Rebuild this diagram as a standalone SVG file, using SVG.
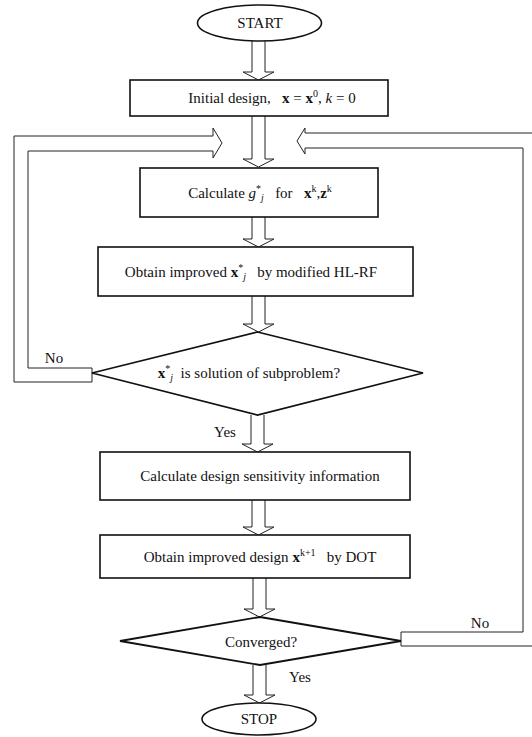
<svg xmlns="http://www.w3.org/2000/svg" width="532" height="737" viewBox="0 0 532 737">
<style>
.bg{fill:#fff}
.box{fill:#fff;stroke:#111;stroke-width:1.6}
.dia{fill:#fff;stroke:#111;stroke-width:1.8}
.con{fill:none;stroke:#222;stroke-width:1}
.t{font-family:"Liberation Serif","Times New Roman",serif;font-size:15px;fill:#111;text-anchor:middle}
.s{font-size:10px}
.b{font-weight:bold}
.i{font-style:italic}
</style>
<rect class="bg" x="0" y="0" width="532" height="737"/>
<g id="connectors">
  <path class="con" d="M252,41 V72 H243 L258.5,80 L274,72 H265 V40"/>
  <path class="con" d="M252,116 V159 H243 L258.5,167 L274,159 H265 V116"/>
  <path class="con" d="M252,217 V239 H243 L258.5,247 L274,239 H265 V217"/>
  <path class="con" d="M252,296 V324 H243 L258.5,332 L274,324 H265 V296"/>
  <path class="con" d="M251,415 V444 H242 L257.5,452 L273,444 H264 V415"/>
  <path class="con" d="M252,500 V527 H243 L258.5,535 L274,527 H265 V500"/>
  <path class="con" d="M253,578 V609 H244 L259.5,617 L275,609 H266 V578"/>
  <path class="con" d="M253,665 V695 H244 L259.5,703 L275,695 H266 V665"/>
  <path class="con" d="M92,382 H14 V136 H213 V128 L222,143 L213,158 V151 H28 V368 H92 Z"/>
  <path class="con" d="M401,646 H532 M532,133 H305 V128 L297,141 L305,154 V148 H523 V632 H401 V646"/>
  <text class="t" x="54" y="363">No</text>
  <text class="t" x="225" y="437">Yes</text>
  <text class="t" x="480" y="628">No</text>
  <text class="t" x="300" y="682">Yes</text>
</g>
<g id="start">
  <ellipse class="box" cx="259.5" cy="23" rx="62" ry="18"/>
  <text class="t" x="260" y="28">START</text>
</g>
<g id="init">
  <rect class="box" x="130" y="80" width="258" height="36"/>
  <text class="t" x="272" y="103" xml:space="preserve">Initial design,   <tspan class="b">x</tspan> = <tspan class="b">x</tspan><tspan class="s" dy="-6">0</tspan><tspan dy="6">, </tspan><tspan class="i">k</tspan> = 0</text>
</g>
<g id="calc">
  <rect class="box" x="140" y="168" width="238" height="49"/>
  <text class="t" x="260" y="198" xml:space="preserve">Calculate <tspan class="i">g</tspan><tspan class="s" dy="-6">*</tspan><tspan class="s i" dy="9">j</tspan><tspan dy="-3">   for   </tspan><tspan class="b">x</tspan><tspan class="s" dy="-6">k</tspan><tspan dy="6">,</tspan><tspan class="b">z</tspan><tspan class="s" dy="-6">k</tspan></text>
</g>
<g id="obtain">
  <rect class="box" x="98" y="247" width="315" height="49"/>
  <text class="t" x="251" y="277" xml:space="preserve">Obtain improved <tspan class="b">x</tspan><tspan class="s" dy="-6">*</tspan><tspan class="s i" dy="9">j</tspan><tspan dy="-3">   by modified HL-RF</tspan></text>
</g>
<g id="subproblem">
  <polygon class="dia" points="257.5,332 423,373 257.5,415 92,373"/>
  <text class="t" x="249" y="378" xml:space="preserve"><tspan class="b">x</tspan><tspan class="s" dy="-6">*</tspan><tspan class="s i" dy="9">j</tspan><tspan dy="-3">  is solution of subproblem?</tspan></text>
</g>
<g id="sens">
  <rect class="box" x="100" y="452" width="310" height="48"/>
  <text class="t" x="260" y="481">Calculate design sensitivity information</text>
</g>
<g id="dot">
  <rect class="box" x="100" y="535" width="310" height="43"/>
  <text class="t" x="260" y="562" xml:space="preserve">Obtain improved design <tspan class="b">x</tspan><tspan class="s" dy="-6">k+1</tspan><tspan dy="6">   by DOT</tspan></text>
</g>
<g id="converged">
  <polygon class="dia" points="260,617 401,641 260,665 120,641"/>
  <text class="t" x="261" y="647">Converged?</text>
</g>
<g id="stop">
  <ellipse class="box" cx="259" cy="719" rx="57" ry="16"/>
  <text class="t" x="259" y="724">STOP</text>
</g>
</svg>
